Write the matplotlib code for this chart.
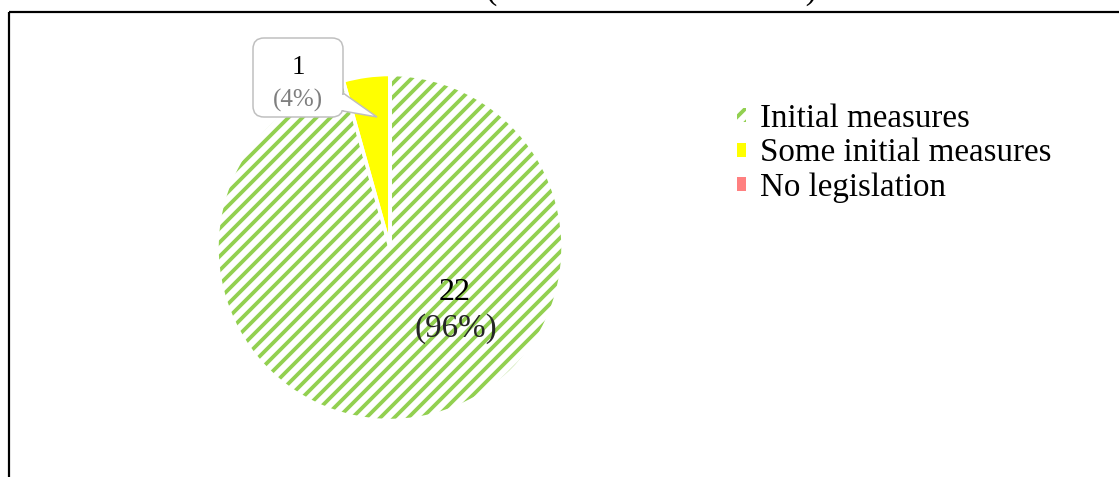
import matplotlib
matplotlib.use("Agg")
import matplotlib.pyplot as plt
from matplotlib.patches import FancyBboxPatch, Polygon, Rectangle

# pie data
labels = ["Initial measures", "Some initial measures", "No legislation"]
counts = [22, 1, 0]
colors = ["#92D050", "#FFFF00", "#FF8080"]

total = sum(counts)
pcts = [round(100.0 * c / total) for c in counts]

# hatch density is tied to dpi, so pick a dpi that gives fine stripes
DPI = 84
W, H = 1119, 477


def pt(px):
    return px * 72.0 / DPI


plt.rcParams["font.family"] = ["Liberation Serif", "DejaVu Serif"]
plt.rcParams["hatch.linewidth"] = pt(3.8)

fig = plt.figure(figsize=(W / DPI, H / DPI), dpi=DPI)

# pie, centred at (390, 247.5) px with radius 173 px
cx, cy, r = 390, 247.5, 173
pad = 4
ax = fig.add_axes([(cx - r - pad) / W, (H - cy - r - pad) / H,
                   2 * (r + pad) / W, 2 * (r + pad) / H])
wedges, _ = ax.pie(counts, colors=colors, startangle=90, counterclock=False,
                   wedgeprops=dict(linewidth=0))
wedges[0].set_facecolor("white")
wedges[0].set_edgecolor(colors[0])
wedges[0].set_hatch("//")
# white separators between slices
ax.pie(counts, colors=["none"] * 3, startangle=90, counterclock=False,
       wedgeprops=dict(linewidth=pt(3.5), edgecolor="white", facecolor="none"))
lim = (r + pad) / r
ax.set_xlim(-lim, lim)
ax.set_ylim(-lim, lim)
ax.set_aspect("equal")

# overlay in pixel units for frame, callout and labels
ov = fig.add_axes([0, 0, 1, 1])
ov.set_xlim(0, W)
ov.set_ylim(H, 0)
ov.axis("off")
ov.set_zorder(10)

# chart frame (only left and top edges fall inside the image)
ov.add_patch(Rectangle((9, 12), 1200, 500, facecolor="none",
                       edgecolor="black", lw=pt(2.2)))

# title, mostly cut off at the top
fig.text(651 / W, 1 + 1 / H, "(N = 23 Member States)", ha="center",
         va="baseline", fontsize=pt(34))

# label inside the big slice
ov.text(455, 292, f"{counts[0]}", ha="center", va="center",
        fontsize=pt(32), color="black")
ov.text(456, 329, f"({pcts[0]}%)", ha="center", va="center",
        fontsize=pt(33), color="#262626")

# callout for the small slice
box_col = "#BFBFBF"
ov.add_patch(FancyBboxPatch((253, 38), 90, 79,
                            boxstyle="round,pad=0,rounding_size=11",
                            facecolor="white", edgecolor=box_col, lw=pt(1.5),
                            zorder=3))
ov.add_patch(Polygon([(343, 93), (377, 117), (343, 111)], closed=True,
                     facecolor="white", edgecolor=box_col, lw=pt(1.5),
                     zorder=3))
ov.add_patch(Polygon([(340.5, 94.8), (345, 94.8), (345, 109.8),
                      (340.5, 109.8)],
                     closed=True, facecolor="white", edgecolor="none",
                     zorder=4))
ov.text(298, 67, f"{counts[1]}", ha="center", va="center",
        fontsize=pt(27), color="black", zorder=5)
ov.text(298, 100, f"({pcts[1]}%)", ha="center", va="center",
        fontsize=pt(25), color="#7F7F7F", zorder=5)

# legend
leg = fig.legend(wedges, labels, loc="upper left",
                 bbox_to_anchor=(737 / W, 1 - 103.5 / H), frameon=False,
                 fontsize=pt(33), handlelength=0.28, handleheight=0.28,
                 handletextpad=0.42, labelspacing=0.12, borderpad=0,
                 borderaxespad=0)

fig.savefig("out.png", dpi=DPI)
